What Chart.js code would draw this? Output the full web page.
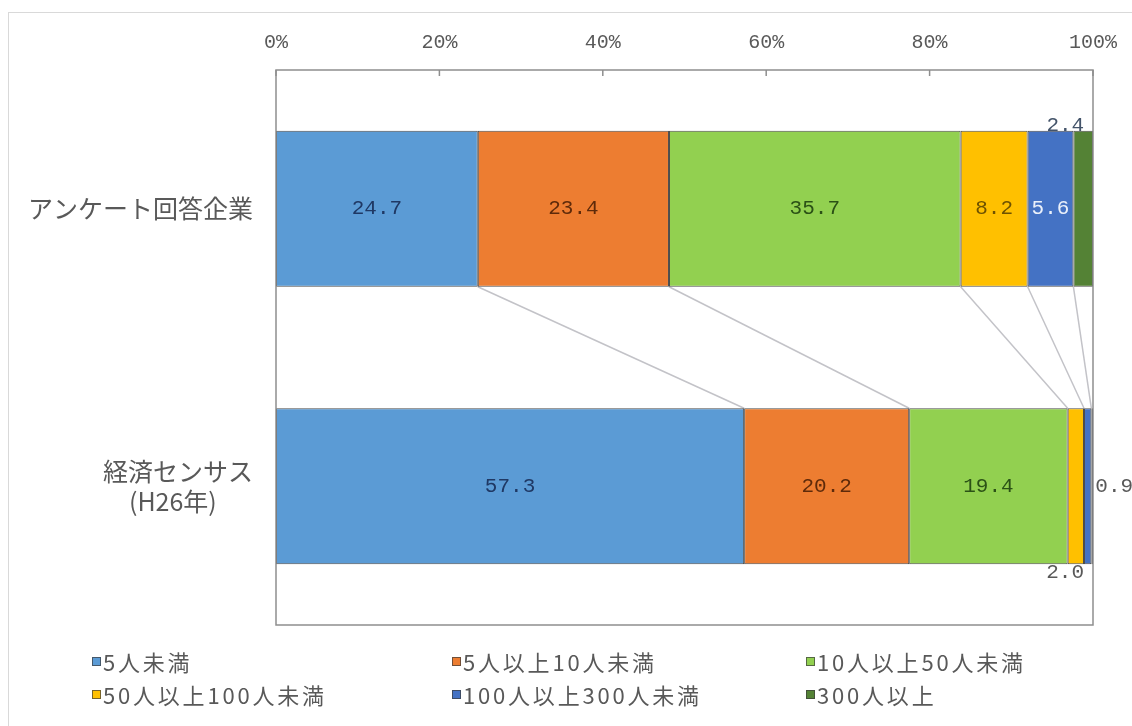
<!DOCTYPE html>
<html><head><meta charset="utf-8">
<script src="https://cdn.jsdelivr.net/npm/chart.js@4.4.1/dist/chart.umd.min.js"></script>
<style>
html,body{margin:0;padding:0;background:#fff;}
#wrap{position:relative;width:1132px;height:726px;overflow:hidden;background:#fff;}
#frame{position:absolute;left:8px;top:12px;width:1300px;height:900px;border-left:1px solid #d9d9d9;border-top:1px solid #d9d9d9;}
#c{position:absolute;left:0;top:0;}
#legend{position:absolute;left:0;top:0;width:1132px;height:726px;pointer-events:none;font-family:"Noto Sans CJK JP";font-size:22px;color:#595959;}
.item{position:absolute;display:flex;align-items:center;white-space:nowrap;transform:translateY(-50%);letter-spacing:2.8px;}
.box{width:7px;height:7px;margin-right:2px;border:1px solid rgba(60,60,60,0.7);}
</style>
</head><body>
<div id="wrap">
<div id="frame"></div>
<canvas id="c" width="1132" height="726"></canvas>
<div id="legend"></div>
</div>
<script>
// ---- data ----
const categories = ['アンケート回答企業', ['経済センサス', '(H26年)\u3000  ']];
const seriesNames = ['5人未満', '5人以上10人未満', '10人以上50人未満', '50人以上100人未満', '100人以上300人未満', '300人以上'];
const surveyValues = [24.7, 23.4, 35.7, 8.2, 5.6, 2.4];
const censusValues = [57.3, 20.2, 19.4, 2.0, 0.9, 0.2];
const xTickValues = [0, 20, 40, 60, 80, 100];

// ---- styles ----
const fillColors = ['#5B9BD5', '#ED7D31', '#92D050', '#FFC000', '#4472C4', '#548235'];
const labelColors = ['#1F3864', '#5E2A0A', '#2B5116', '#6E5200', '#EAF0FA', '#44546A'];
const outerLabelColor = '#595959';
// label placement for small segments: key "dataset-index"
const outsidePlacement = {'5-0': 'above', '3-1': 'below', '4-1': 'right', '5-1': 'none'};

const datasets = seriesNames.map((name, i) => ({
  label: name,
  data: [surveyValues[i], censusValues[i]],
  backgroundColor: fillColors[i],
  borderColor: 'rgba(45,45,45,0.85)',
  borderWidth: 1,
  borderSkipped: false,
  barPercentage: 0.562,
  categoryPercentage: 1.0
}));

const monoFont = '"Liberation Mono", "Noto Sans CJK JP", monospace';

const framePlugin = {
  id: 'frame',
  beforeDatasetsDraw(chart) {
    const ctx = chart.ctx;
    ctx.save();
    ctx.strokeStyle = '#c3c3c8';
    ctx.lineWidth = 1.5;
    for (let d = 0; d < chart.data.datasets.length - 1; d++) {
      const meta = chart.getDatasetMeta(d);
      const a = meta.data[0], b = meta.data[1];
      if (!a || !b) continue;
      ctx.beginPath();
      ctx.moveTo(a.x, a.y + a.height / 2);
      ctx.lineTo(b.x, b.y - b.height / 2);
      ctx.stroke();
    }
    ctx.restore();
  },
  afterDatasetsDraw(chart) {
    const ctx = chart.ctx;
    const area = chart.chartArea;
    ctx.save();
    ctx.strokeStyle = '#8e8e8e';
    ctx.lineWidth = 1.5;
    ctx.strokeRect(area.left, area.top, area.right - area.left, area.bottom - area.top);
    const xs = chart.scales.x;
    xs.ticks.forEach((t, i) => {
      const px = xs.getPixelForTick(i);
      ctx.beginPath();
      ctx.moveTo(px, area.top);
      ctx.lineTo(px, area.top + 6);
      ctx.stroke();
    });
    ctx.restore();

    ctx.save();
    ctx.font = '21px ' + monoFont;
    chart.data.datasets.forEach((ds, d) => {
      const meta = chart.getDatasetMeta(d);
      meta.data.forEach((el, i) => {
        const v = ds.data[i];
        const txt = v.toFixed(1);
        const place = outsidePlacement[d + '-' + i] || 'inside';
        const left = Math.min(el.x, el.base), right = Math.max(el.x, el.base);
        const top = el.y - el.height / 2, bottom = el.y + el.height / 2;
        if (place === 'none') return;
        if (place === 'inside') {
          ctx.fillStyle = labelColors[d];
          ctx.textAlign = 'center'; ctx.textBaseline = 'middle';
          ctx.fillText(txt, (left + right) / 2, el.y);
        } else if (place === 'above') {
          ctx.fillStyle = labelColors[5];
          ctx.textAlign = 'right'; ctx.textBaseline = 'alphabetic';
          ctx.fillText(txt, (left + right) / 2 + 1, top);
        } else if (place === 'below') {
          ctx.fillStyle = outerLabelColor;
          ctx.textAlign = 'right'; ctx.textBaseline = 'top';
          ctx.fillText(txt, right, bottom - 2);
        } else if (place === 'right') {
          ctx.fillStyle = outerLabelColor;
          ctx.textAlign = 'left'; ctx.textBaseline = 'middle';
          ctx.fillText(txt, right + 4, el.y);
        }
      });
    });
    ctx.restore();
  }
};

const chart = new Chart(document.getElementById('c'), {
  type: 'bar',
  data: { labels: categories, datasets },
  options: {
    indexAxis: 'y',
    responsive: false,
    devicePixelRatio: 1,
    animation: false,
    layout: { padding: { left: 0, top: 0, right: 39, bottom: 101 } },
    plugins: { legend: { display: false }, tooltip: { enabled: false } },
    scales: {
      x: {
        position: 'top',
        stacked: true,
        min: 0, max: 100,
        afterBuildTicks: (s) => { s.ticks = xTickValues.map(v => ({ value: v })); },
        ticks: {
          callback: (v) => v + '%',
          color: '#595959',
          padding: 15,
          font: { family: monoFont, size: 20 },
          maxRotation: 0
        },
        grid: { display: false, drawTicks: false },
        border: { display: false },
        afterFit: (s) => { s.height = 70; }
      },
      y: {
        stacked: true,
        ticks: {
          color: '#595959',
          padding: 23,
          font: { family: '"Noto Sans CJK JP"', size: 25, lineHeight: 1.2 }
        },
        grid: { display: false, drawTicks: false },
        border: { display: false },
        afterFit: (s) => { s.width = 276; }
      }
    }
  },
  plugins: [framePlugin]
});

const legendEl = document.getElementById('legend');
const colX = [92, 452, 806];
const rowY = [661, 694];
chart.data.datasets.forEach((ds, i) => {
  const item = document.createElement('div');
  item.className = 'item';
  item.style.left = colX[i % 3] + 'px';
  item.style.top = rowY[Math.floor(i / 3)] + 'px';
  const box = document.createElement('span');
  box.className = 'box';
  box.style.background = ds.backgroundColor;
  const t = document.createElement('span');
  t.textContent = ds.label;
  item.appendChild(box); item.appendChild(t);
  legendEl.appendChild(item);
});
</script>
</body></html>
